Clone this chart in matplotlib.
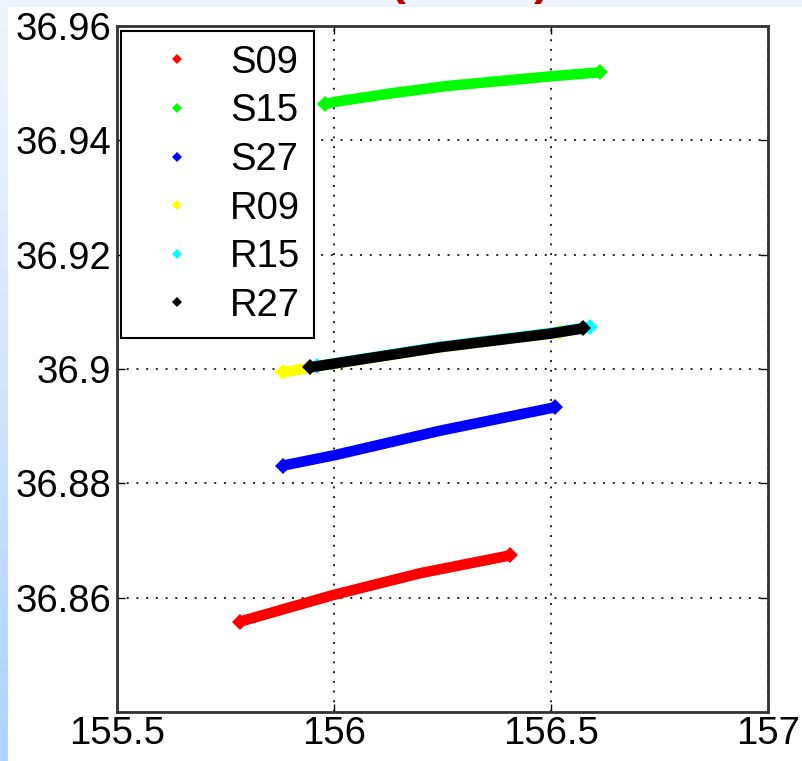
import matplotlib
matplotlib.use('Agg')
import matplotlib.pyplot as plt
import numpy as np
from matplotlib.lines import Line2D
from matplotlib.colors import LinearSegmentedColormap

plt.rcParams['font.family'] = ['Liberation Sans', 'DejaVu Sans']

# points (lon, lat) for each track
s09_x = [155.783, 156.0, 156.2, 156.406]
s09_y = [36.8558, 36.8605, 36.8643, 36.8674]
s15_x = [155.979, 156.0, 156.13, 156.26, 156.5, 156.613]
s15_y = [36.9463, 36.9467, 36.9482, 36.9495, 36.9512, 36.9519]
s27_x = [155.882, 156.0, 156.244, 156.509]
s27_y = [36.8831, 36.8849, 36.8892, 36.8933]
r09_x = [155.882, 155.95, 156.244, 156.52]
r09_y = [36.8994, 36.9003, 36.9038, 36.9064]
r15_x = [155.96, 156.244, 156.5, 156.59]
r15_y = [36.9005, 36.9039, 36.9063, 36.9074]
r27_x = [155.945, 156.244, 156.5, 156.574]
r27_y = [36.9003, 36.9038, 36.9062, 36.9071]

labels = ['S09', 'S15', 'S27', 'R09', 'R15', 'R27']
colors = ['#ff0000', '#00ff00', '#0000ff', '#ffff00', '#00ffff', '#000000']
tracks = [(s09_x, s09_y), (s15_x, s15_y), (s27_x, s27_y),
          (r09_x, r09_y), (r15_x, r15_y), (r27_x, r27_y)]

xticks = [155.5, 156, 156.5, 157]
xticklabels = ['155.5', '156', '156.5', '157']
yticks = [36.86, 36.88, 36.9, 36.92, 36.94, 36.96]
yticklabels = ['36.86', '36.88', '36.9', '36.92', '36.94', '36.96']

W, H = 803, 761
fig = plt.figure(figsize=(W / 100, H / 100), dpi=100)
fig.patch.set_facecolor('white')

# slide background bits: light strip on top, blue gradient on the left
top = fig.add_axes([0, 1 - 7 / H, 1, 7 / H], zorder=-5)
top.set_axis_off()
top.add_patch(plt.Rectangle((0, 0), 1, 1, color='#eef4fd', transform=top.transAxes))
left = fig.add_axes([0, 0, 8 / W, 1], zorder=-4)
cmap = LinearSegmentedColormap.from_list('side', ['#f0f5fd', '#d3e4fb', '#add3fd'])
left.imshow(np.linspace(0, 1, 200).reshape(-1, 1), aspect='auto', cmap=cmap)
left.set_axis_off()

# title mostly cut off at the top edge (as in the slide)
fig.text(398 / W, 1 + 6 / H, '(', color='#c00000', fontsize=34, fontweight='bold',
         ha='center', va='baseline')
fig.text(542 / W, 1 + 6 / H, ')', color='#c00000', fontsize=34, fontweight='bold',
         ha='center', va='baseline')

ax = fig.add_axes([117 / W, 1 - 712 / H, (768 - 117) / W, (712 - 26) / H])
for (xs, ys), c in zip(tracks, colors):
    ax.plot(xs, ys, '-', color=c, lw=7.6, solid_capstyle='butt',
            solid_joinstyle='round', zorder=3)
    ax.plot([xs[0], xs[-1]], [ys[0], ys[-1]], 'D', color=c, ms=8.5, mew=0, zorder=3)

ax.set_xlim(155.5, 157)
ax.set_ylim(36.84, 36.96)
ax.set_xticks(xticks)
ax.set_xticklabels(xticklabels)
ax.set_yticks(yticks)
ax.set_yticklabels(yticklabels)
ax.tick_params(direction='in', length=6, width=1, top=True, right=True,
               labelsize=27.5, colors='black')
ax.tick_params(axis='x', pad=3)
ax.tick_params(axis='y', pad=4)
ax.grid(True, color='#222222', linestyle=(0, (1, 4)), lw=1.4)
ax.set_axisbelow(True)
for sp in ax.spines.values():
    sp.set_color('#333333')
    sp.set_linewidth(2)

handles = [Line2D([], [], marker='D', color=c, ls='none', ms=5, mew=0) for c in colors]
leg = ax.legend(handles, labels, loc='upper left',
                bbox_to_anchor=(121 / W, 1 - 31 / H), bbox_transform=fig.transFigure,
                borderaxespad=0, fontsize=27.5, frameon=True, fancybox=False,
                borderpad=0.36, labelspacing=0.33, handlelength=2.2,
                handletextpad=0.3)
leg.get_frame().set_edgecolor('black')
leg.get_frame().set_linewidth(1.5)
leg.get_frame().set_alpha(1)

fig.savefig('out.png', dpi=100, facecolor=fig.get_facecolor())
